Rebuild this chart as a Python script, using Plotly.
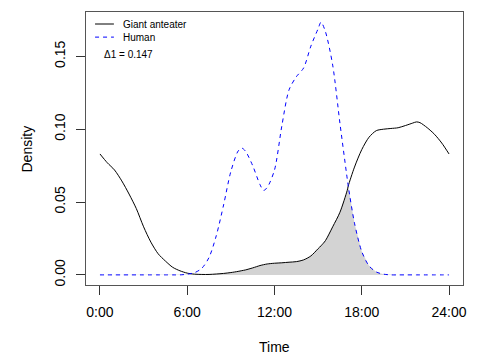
import numpy as np
import plotly.graph_objects as go

hours = [0, 0.5, 1, 1.5, 2, 2.5, 3, 3.5, 4, 4.5, 5, 5.5, 6, 6.5, 7, 7.5, 8, 8.5, 9, 9.5,
         9.75, 10, 10.5, 11, 11.25, 11.5, 12, 12.5, 13, 13.5, 14, 14.5, 15, 15.2, 15.5,
         16, 16.5, 17, 17.07, 17.5, 18, 18.5, 19, 19.5, 20, 20.5, 21, 21.5, 21.76, 22,
         22.5, 23, 23.5, 24]

anteater = [0.083, 0.077, 0.072, 0.0645, 0.0555, 0.0455, 0.033, 0.0225, 0.0145, 0.0095,
            0.0052, 0.0028, 0.0012, 0.0005, 0.0003, 0.0003, 0.0006, 0.001, 0.0016, 0.0024,
            0.0029, 0.0034, 0.0048, 0.0064, 0.007, 0.0075, 0.008, 0.0083, 0.0087, 0.0091,
            0.0103, 0.013, 0.018, 0.020, 0.0235, 0.033, 0.043, 0.058, 0.061, 0.074,
            0.086, 0.0945, 0.099, 0.100, 0.1005, 0.101, 0.1025, 0.1042, 0.105, 0.1045,
            0.101, 0.0965, 0.0905, 0.083]

human = [0, 0, 0, 0, 0, 0, 0, 0, 0, 0, 0, 0, 0.0005, 0.0015, 0.0045, 0.012, 0.027, 0.048,
         0.071, 0.085, 0.087, 0.085, 0.075, 0.062, 0.058, 0.060, 0.072, 0.102, 0.127, 0.136,
         0.142, 0.157, 0.169, 0.1735, 0.167, 0.144, 0.104, 0.066, 0.061, 0.0355, 0.016,
         0.0062, 0.002, 0.0005, 0, 0, 0, 0, 0, 0, 0, 0, 0, 0]

series_names = ["Giant anteater", "Human"]
series_colors = ["black", "blue"]
series_dash = ["solid", "4px,4px"]
x_tick_vals = [0, 6, 12, 18, 24]
x_tick_text = ["0:00", "6:00", "12:00", "18:00", "24:00"]
y_tick_vals = [0, 0.05, 0.10, 0.15]
overlap_label = "\u03941 = 0.147"
x_title = "Time"
y_title = "Density"

h = np.array(hours)
a = np.array(anteater)
u = np.array(human)
overlap = np.minimum(a, u)

FONT = "Liberation Sans, Arial, Helvetica, sans-serif"

fig = go.Figure()
fig.add_trace(go.Scatter(x=h, y=overlap, mode="lines", fill="tozeroy",
                         fillcolor="#D3D3D3", line=dict(width=0, color="#D3D3D3"),
                         showlegend=False, hoverinfo="skip"))
for vals, name, col, dash in zip([a, u], series_names, series_colors, series_dash):
    fig.add_trace(go.Scatter(x=h, y=vals, mode="lines", name=name, showlegend=False,
                             line=dict(color=col, width=1, dash=dash,
                                       shape="spline", smoothing=0.8)))

# manual legend (R-style) in paper coordinates
leg_y = [0.956, 0.908]
for name, col, dash, yy in zip(series_names, series_colors, series_dash, leg_y):
    fig.add_shape(type="line", xref="paper", yref="paper", x0=0.024, x1=0.074, y0=yy, y1=yy,
                  line=dict(color=col, width=1, dash=dash))
    fig.add_annotation(text=name, xref="paper", yref="paper", x=0.094, y=yy,
                       xanchor="left", yanchor="middle", showarrow=False,
                       font=dict(size=10, color="black", family=FONT))

fig.add_annotation(text=overlap_label, xref="paper", yref="paper", x=0.043, y=0.846,
                   xanchor="left", yanchor="middle", showarrow=False,
                   font=dict(size=10, color="black", family=FONT))

# axis titles
fig.add_annotation(text=x_title, xref="paper", yref="paper", x=0.5, y=-0.227,
                   xanchor="center", yanchor="middle", showarrow=False,
                   font=dict(size=14, color="black", family=FONT))
fig.add_annotation(text=y_title, xref="paper", yref="paper", x=-0.1565, y=0.5,
                   xanchor="center", yanchor="middle", showarrow=False, textangle=-90,
                   font=dict(size=14, color="black", family=FONT))

ymax = max(a.max(), u.max())
xpad = 0.04 * (h.max() - h.min())

axis_common = dict(showline=True, linecolor="#555", linewidth=1, mirror=True,
                   ticks="outside", ticklen=9, tickcolor="#333", tickwidth=1,
                   showgrid=False, zeroline=False, automargin=False,
                   tickfont=dict(size=14, color="black", family=FONT))

fig.update_layout(
    width=494, height=360,
    margin=dict(l=86, r=31, t=12, b=75),
    paper_bgcolor="white", plot_bgcolor="white",
    font=dict(family=FONT, color="black"),
    showlegend=False,
    xaxis=dict(range=[h.min() - xpad, h.max() + xpad], tickvals=x_tick_vals,
               ticktext=x_tick_text, ticklabelstandoff=5, **axis_common),
    yaxis=dict(range=[-0.04 * ymax, ymax * 1.04], tickvals=y_tick_vals, tickformat=".2f",
               tickangle=-90, ticklabelstandoff=5, **axis_common),
)

fig.write_html("out.html", config={"displayModeBar": False},
               post_script="document.body.style.margin='0';")
